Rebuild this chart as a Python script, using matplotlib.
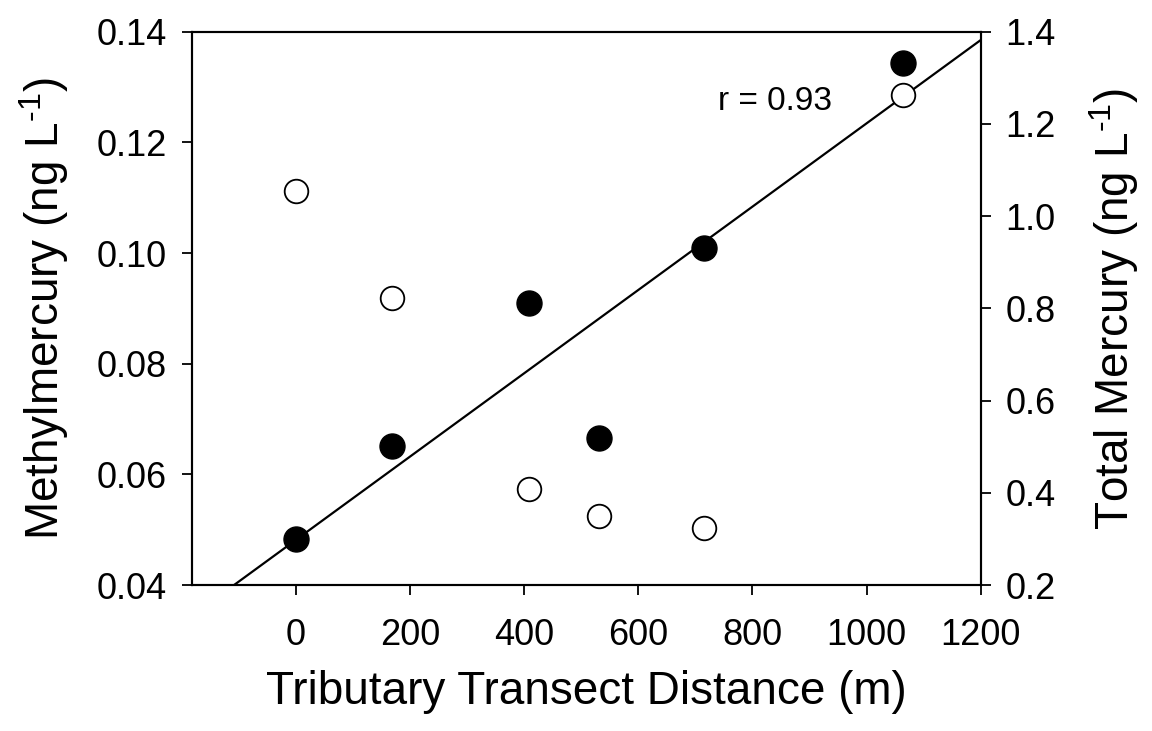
import numpy as np
import matplotlib
matplotlib.use('Agg')
import matplotlib.pyplot as plt

plt.rcParams['font.family'] = ['Liberation Sans', 'DejaVu Sans']
plt.rcParams['mathtext.fontset'] = 'custom'
plt.rcParams['mathtext.rm'] = 'Liberation Sans'
plt.rcParams['mathtext.it'] = 'Liberation Sans'

# distance along tributary transect (m)
distance = [0, 168, 409, 531, 715, 1063]
# methylmercury (ng/L), filled circles, left axis
mehg = [0.0483, 0.0652, 0.0909, 0.0666, 0.1009, 0.1344]
# total mercury (ng/L), open circles, right axis
thg = [1.055, 0.822, 0.409, 0.349, 0.323, 1.263]

x_ticks = [0, 200, 400, 600, 800, 1000, 1200]
left_ticks = [0.04, 0.06, 0.08, 0.10, 0.12, 0.14]
right_ticks = [0.2, 0.4, 0.6, 0.8, 1.0, 1.2, 1.4]

fig = plt.figure(figsize=(11.52, 7.31), dpi=100)
ax = fig.add_axes([0.1664, 0.1997, 0.6849, 0.7569])
ax2 = ax.twinx()

# regression of MeHg on distance
slope, icept = np.polyfit(distance, mehg, 1)
xl = np.array([-183, 1200])
ax.plot(xl, slope * xl + icept, color='black', lw=1.6, zorder=2)

ax.plot(distance, mehg, 'o', color='black', ms=18, zorder=3)
ax2.plot(distance, thg, 'o', mfc='white', mec='black', mew=1.3, ms=17, zorder=3)

ax.set_xlim(-183, 1200)
ax.set_ylim(0.04, 0.14)
ax2.set_ylim(0.2, 1.4)

ax.set_xticks(x_ticks)
ax.set_yticks(left_ticks)
ax.set_yticklabels(['%.2f' % v for v in left_ticks])
ax2.set_yticks(right_ticks)
ax2.set_yticklabels(['%.1f' % v for v in right_ticks])

for a in (ax, ax2):
    for s in a.spines.values():
        s.set_linewidth(1.5)
ax.tick_params(axis='both', direction='out', length=7, width=1.3, labelsize=26, pad=11)
ax2.tick_params(axis='y', direction='out', length=7, width=1.3, labelsize=26, pad=11)
ax.tick_params(axis='x', pad=17)

ax.set_xlabel('Tributary Transect Distance (m)', fontsize=33, labelpad=12)
ax.set_ylabel(r'Methylmercury (ng L$^{\text{-1}}$)', fontsize=33, labelpad=18)
ax2.set_ylabel(r'Total Mercury (ng L$^{\text{-1}}$)', fontsize=33, labelpad=22)

ax.text(840, 0.1273, 'r = 0.93', fontsize=24, ha='center', va='center')

fig.savefig('out.png', dpi=100)
